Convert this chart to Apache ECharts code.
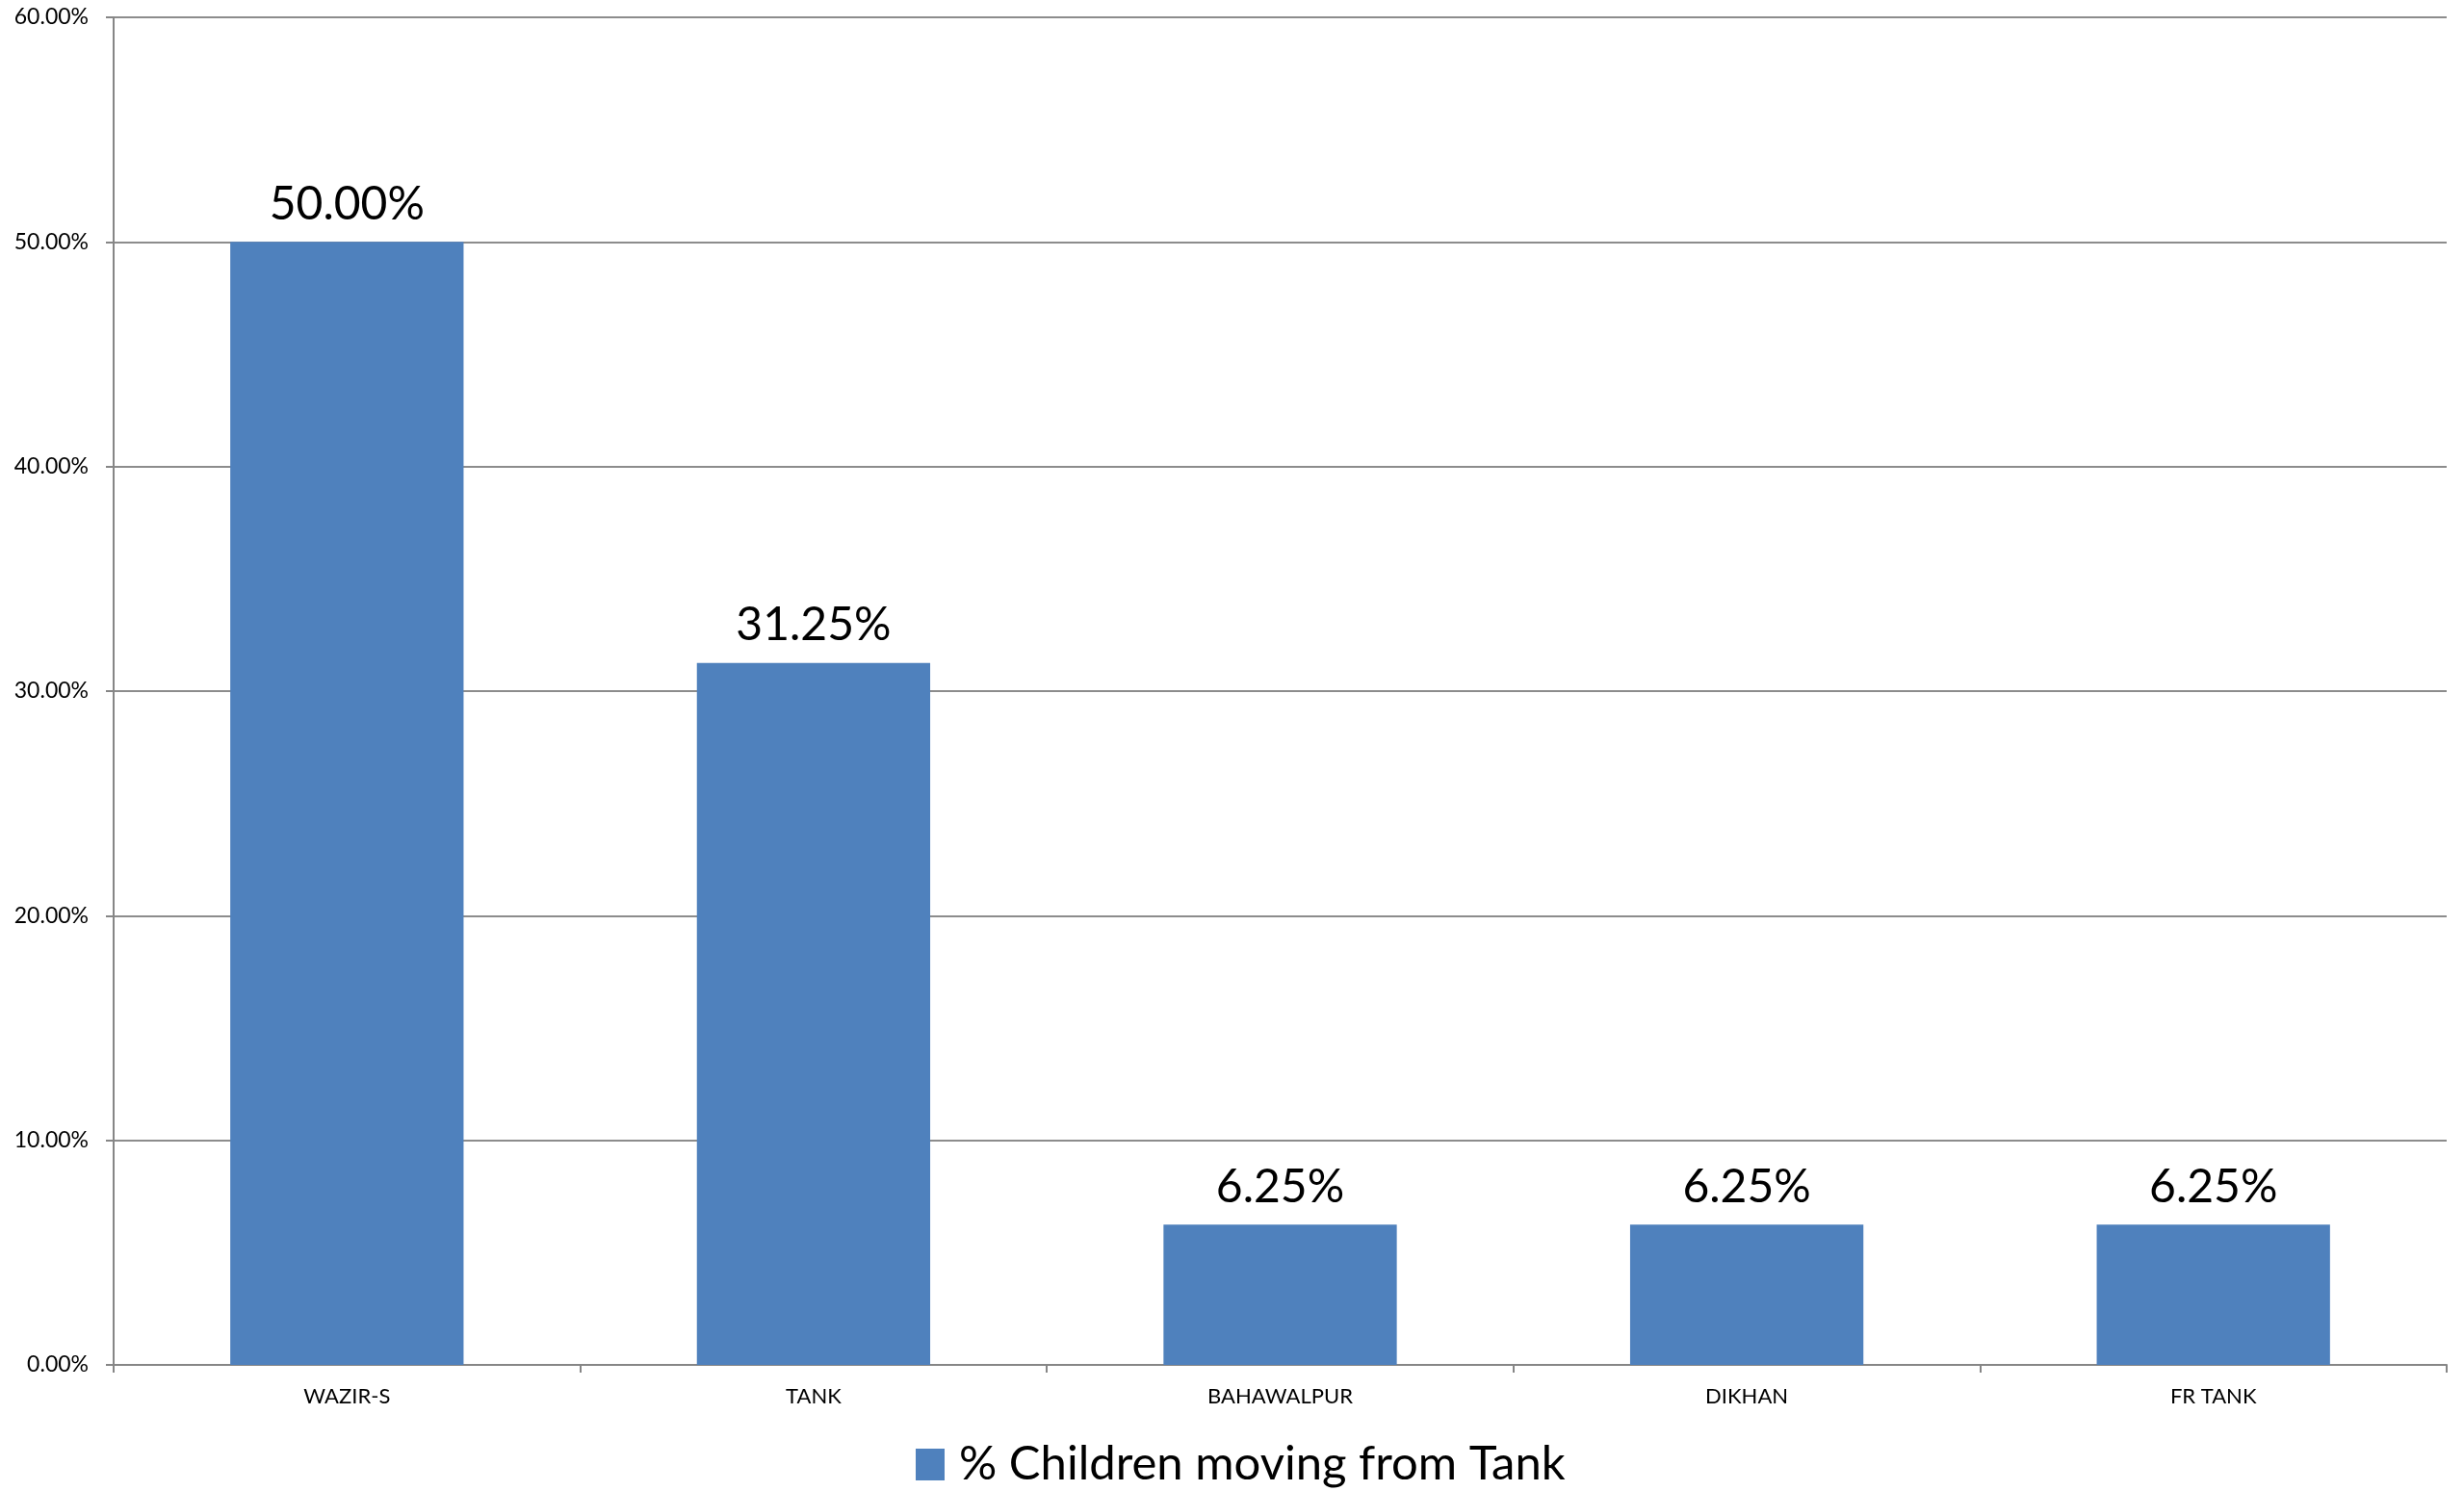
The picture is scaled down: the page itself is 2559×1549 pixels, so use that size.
<!DOCTYPE html>
<html>
<head>
<meta charset="utf-8">
<script src="https://cdn.jsdelivr.net/npm/echarts@6/dist/echarts.min.js"></script>
<style>
html,body{margin:0;padding:0;background:#fff;}
#chart{width:2559px;height:1549px;}
</style>
</head>
<body>
<div id="chart"></div>
<script>
const categories = ['WAZIR-S', 'TANK', 'BAHAWALPUR', 'DIKHAN', 'FR TANK'];
const seriesName = '% Children moving from Tank';
const values = [50.00, 31.25, 6.25, 6.25, 6.25];
const yTicks = [0, 10, 20, 30, 40, 50, 60];

const FONT = 'Lato, "Open Sans", sans-serif';
const chart = echarts.init(document.getElementById('chart'));
chart.setOption({
  animation: false,
  backgroundColor: '#ffffff',
  grid: { left: 118, right: 18, top: 18, bottom: 131, containLabel: false },
  legend: {
    data: [seriesName],
    bottom: -2,
    left: 946,
    itemWidth: 30,
    itemHeight: 33,
    icon: 'rect',
    textStyle: { fontFamily: FONT, fontSize: 49, color: '#000', padding: [0, 0, 0, 10] }
  },
  xAxis: {
    type: 'category',
    data: categories,
    axisLine: { lineStyle: { color: '#868686', width: 2 } },
    axisTick: { show: true, length: 8, lineStyle: { color: '#868686', width: 2 } },
    axisLabel: { fontFamily: FONT, fontSize: 22, color: '#000', margin: 22 }
  },
  yAxis: {
    type: 'value',
    min: yTicks[0],
    max: yTicks[yTicks.length - 1],
    interval: 10,
    axisLine: { show: true, lineStyle: { color: '#868686', width: 2 } },
    axisTick: { show: true, length: 8, lineStyle: { color: '#868686', width: 2 } },
    splitLine: { show: true, lineStyle: { color: '#8c8c8c', width: 2 } },
    axisLabel: {
      fontFamily: FONT, fontSize: 23, color: '#000', margin: 26,
      formatter: v => v.toFixed(2) + '%'
    }
  },
  series: [{
    name: seriesName,
    type: 'bar',
    data: values,
    barWidth: '50%',
    itemStyle: { color: '#4F81BD' },
    label: {
      show: true,
      position: 'top',
      distance: 15,
      fontFamily: FONT,
      fontSize: 48,
      color: '#000',
      formatter: p => p.value.toFixed(2) + '%'
    }
  }]
});
</script>
</body>
</html>
